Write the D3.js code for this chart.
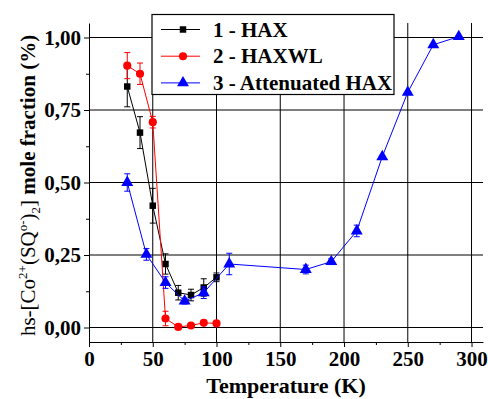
<!DOCTYPE html>
<html>
<head>
<meta charset="utf-8">
<script src="https://cdn.jsdelivr.net/npm/d3@7"></script>
<style>
  body { margin: 0; background: #fff; }
  text { font-family: "Liberation Serif", "Times New Roman", serif; }
</style>
</head>
<body>
<div id="chart"></div>
<script>
// series 1 - HAX
const haxT = [30, 40, 50, 60, 70, 80, 90, 100];
const haxY = [0.831, 0.672, 0.42, 0.219, 0.12, 0.112, 0.138, 0.173];
const haxErr = [0.07, 0.055, 0.06, 0.035, 0.025, 0.02, 0.03, 0.015];

// series 2 - HAXWL
const wlT = [30, 40, 50, 60, 70, 80, 90, 100];
const wlY = [0.903, 0.875, 0.708, 0.031, 0.002, 0.007, 0.016, 0.014];
const wlErr = [0.045, 0.037, 0.02, 0.025, 0, 0, 0, 0];

// series 3 - Attenuated HAX
const attT = [30, 45, 60, 75, 90, 110, 170, 190, 210, 230, 250, 270, 290];
const attY = [0.5, 0.252, 0.155, 0.091, 0.12, 0.219, 0.2, 0.227, 0.333, 0.589, 0.811, 0.975, 1.003];
const attErr = [0.03, 0.02, 0.02, 0.01, 0.02, 0.037, 0.015, 0.01, 0.02, 0, 0, 0, 0];

const xTicks = [0, 50, 100, 150, 200, 250, 300];
const yTicks = [0, 0.25, 0.5, 0.75, 1.0];
const legendLabels = ['1 - HAX', '2 - HAXWL', '3 - Attenuated HAX'];

const width = 488, height = 399;
const margin = { top: 23, right: 5, bottom: 57, left: 89 };

const svg = d3.select('#chart').append('svg')
  .attr('width', width).attr('height', height);

const x = d3.scaleLinear().domain([0, 309]).range([margin.left, width - margin.right]);
const y = d3.scaleLinear().domain([-0.05, 1.05]).range([height - margin.bottom, margin.top]);

// gridlines
const grid = svg.append('g').attr('stroke', '#000').attr('stroke-width', 1);
grid.selectAll('.gx').data(xTicks.filter(d => d > 0)).join('line')
  .attr('x1', d => x(d)).attr('x2', d => x(d))
  .attr('y1', y.range()[0]).attr('y2', y.range()[1]);
grid.selectAll('.gy').data(yTicks).join('line')
  .attr('y1', d => y(d)).attr('y2', d => y(d))
  .attr('x1', x.range()[0]).attr('x2', x.range()[1]);

// axes
const fmt = d => d3.format('.2f')(d).replace('.', ',');
const xAxis = svg.append('g')
  .attr('transform', `translate(0,${y.range()[0]})`)
  .call(d3.axisBottom(x).tickValues(xTicks).tickSize(5).tickPadding(4).tickSizeOuter(0));
const xMinor = svg.append('g')
  .attr('transform', `translate(0,${y.range()[0]})`)
  .call(d3.axisBottom(x).tickValues([25, 75, 125, 175, 225, 275]).tickSize(3).tickFormat('').tickSizeOuter(0));
const yAxis = svg.append('g')
  .attr('transform', `translate(${x.range()[0]},0)`)
  .call(d3.axisLeft(y).tickValues(yTicks).tickFormat(fmt).tickSize(5).tickPadding(3).tickSizeOuter(0));
const yMinor = svg.append('g')
  .attr('transform', `translate(${x.range()[0]},0)`)
  .call(d3.axisLeft(y).tickValues([0.125, 0.375, 0.625, 0.875]).tickSize(3).tickFormat('').tickSizeOuter(0));

[xAxis, xMinor, yAxis, yMinor].forEach(g => {
  g.attr('font-family', null);
  g.selectAll('path, line').attr('stroke', '#000');
  g.selectAll('text')
    .attr('fill', '#000')
    .style('font-size', '21px')
    .style('font-weight', 'bold')
    .style('font-family', '"Liberation Serif", serif');
});
xMinor.select('.domain').remove();
yMinor.select('.domain').remove();

// series
const series = [
  { t: haxT, v: haxY, e: haxErr, color: '#000', shape: d3.symbolSquare, size: 42 },
  { t: wlT, v: wlY, e: wlErr, color: '#ff0000', shape: d3.symbolCircle, size: 52 },
  { t: attT, v: attY, e: attErr, color: '#0000ff', shape: d3.symbolTriangle, size: 62 },
];

series.forEach(s => {
  const pts = s.t.map((t, i) => ({ t, v: s.v[i], e: s.e[i] }));
  const g = svg.append('g');
  g.append('path')
    .datum(pts)
    .attr('fill', 'none')
    .attr('stroke', s.color)
    .attr('stroke-width', 1)
    .attr('d', d3.line().x(d => x(d.t)).y(d => y(d.v)));
  const eb = g.selectAll('.err').data(pts.filter(d => d.e > 0)).join('g')
    .attr('stroke', s.color).attr('stroke-width', 1);
  eb.append('line')
    .attr('x1', d => x(d.t)).attr('x2', d => x(d.t))
    .attr('y1', d => y(d.v - d.e)).attr('y2', d => y(d.v + d.e));
  eb.append('line')
    .attr('x1', d => x(d.t) - 3).attr('x2', d => x(d.t) + 3)
    .attr('y1', d => y(d.v - d.e)).attr('y2', d => y(d.v - d.e));
  eb.append('line')
    .attr('x1', d => x(d.t) - 3).attr('x2', d => x(d.t) + 3)
    .attr('y1', d => y(d.v + d.e)).attr('y2', d => y(d.v + d.e));
  g.selectAll('.mk').data(pts).join('path')
    .attr('transform', d => `translate(${x(d.t)},${y(d.v)})`)
    .attr('d', d3.symbol().type(s.shape).size(s.size))
    .attr('fill', s.color);
});

// legend
const lg = svg.append('g');
lg.append('rect')
  .attr('x', 152).attr('y', 14.5).attr('width', 242).attr('height', 80)
  .attr('fill', '#fff').attr('stroke', '#000').attr('stroke-width', 1.2);
legendLabels.forEach((lab, i) => {
  const s = series[i];
  const ly = 29.5 + i * 26.7;
  lg.append('line')
    .attr('x1', 161).attr('x2', 200).attr('y1', ly).attr('y2', ly)
    .attr('stroke', s.color).attr('stroke-width', 1);
  lg.append('path')
    .attr('transform', `translate(183,${ly})`)
    .attr('d', d3.symbol().type(s.shape).size(s.size))
    .attr('fill', s.color);
  lg.append('text')
    .attr('x', 213).attr('y', ly + 7)
    .style('font-size', '21px').style('font-weight', 'bold')
    .text(lab);
});

// axis titles
svg.append('text')
  .attr('x', (x.range()[0] + x.range()[1]) / 2).attr('y', 393)
  .attr('text-anchor', 'middle')
  .style('font-size', '22px').style('font-weight', 'bold')
  .text('Temperature (K)');

const yl = svg.append('text')
  .attr('transform', `translate(35,${(y.range()[0] + y.range()[1]) / 2 + 3}) rotate(-90)`)
  .attr('text-anchor', 'middle')
  .style('font-size', '21px');
yl.append('tspan').text('hs-[Co');
yl.append('tspan').attr('dy', -8).style('font-size', '13px').text('2+');
yl.append('tspan').attr('dy', 8).text('(SQ');
yl.append('tspan').attr('dy', -8).style('font-size', '13px').text('o-');
yl.append('tspan').attr('dy', 8).text(')');
yl.append('tspan').attr('dy', 5).style('font-size', '13px').text('2');
yl.append('tspan').attr('dy', -5).text(']');
yl.append('tspan').style('font-weight', 'bold').text(' mole fraction (%)');
</script>
</body>
</html>
